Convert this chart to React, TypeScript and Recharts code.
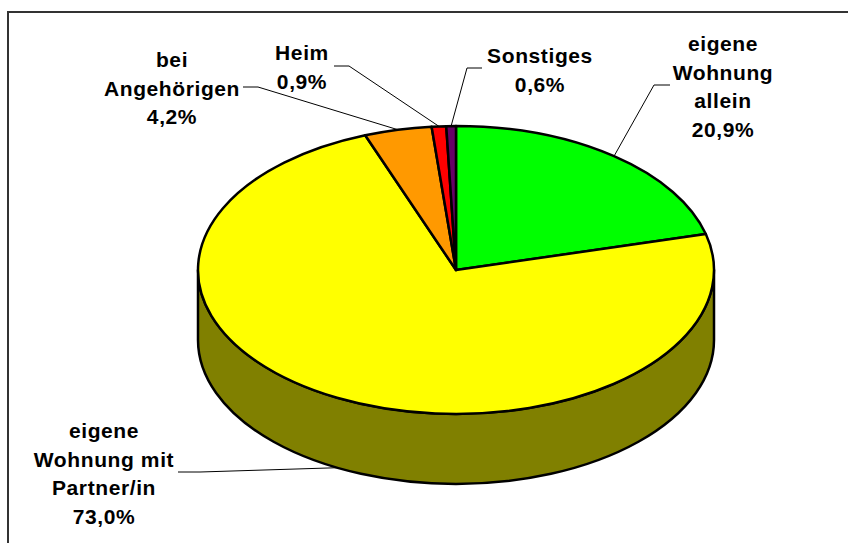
import { PieChart, Pie } from 'recharts'

const CATEGORIES = [
  ['eigene', 'Wohnung', 'allein'],
  ['eigene', 'Wohnung mit', 'Partner/in'],
  ['bei', 'Angehörigen'],
  ['Heim'],
  ['Sonstiges'],
]
const VALUES = [20.9, 73.0, 4.2, 0.9, 0.6]
const COLORS = ['#00ff00', '#ffff00', '#ff9900', '#ff0000', '#660066']
const SIDE_COLOR = '#808000'

// where each label block sits and where its leader line leaves it
const LABEL_SPOTS = [
  { x: 723, y: 51, elbow: [[670, 85], [654, 85]] },
  { x: 104, y: 438, elbow: [[178, 472], [200, 472]] },
  { x: 172, y: 67, elbow: [[243, 87], [258, 87]] },
  { x: 302, y: 60, elbow: [[334, 66], [349, 66]] },
  { x: 540, y: 63, elbow: [[482, 68], [467, 68]] },
]

const SQUASH = 0.558
const DEPTH = 70
const LINE_HEIGHT = 28.6

const TABLE = CATEGORIES.map((c, i) => ({ name: c.join(' '), value: VALUES[i], fill: COLORS[i] }))
const SIDE_TABLE = TABLE.map((d) => ({ ...d, fill: SIDE_COLOR }))

function onEllipse(cx: number, cy: number, r: number, deg: number) {
  const a = (deg * Math.PI) / 180
  return [cx + r * Math.cos(a), cy - r * SQUASH * Math.sin(a)]
}

function TopSlice(p: any) {
  const [x1, y1] = onEllipse(p.cx, p.cy, p.outerRadius, p.startAngle)
  const [x2, y2] = onEllipse(p.cx, p.cy, p.outerRadius, p.endAngle)
  const large = Math.abs(p.startAngle - p.endAngle) > 180 ? 1 : 0
  const ry = p.outerRadius * SQUASH
  const d = `M${p.cx},${p.cy} L${x1},${y1} A${p.outerRadius},${ry} 0 ${large} 1 ${x2},${y2} Z`
  return <path d={d} fill={p.fill} stroke="#000" strokeWidth={2.5} strokeLinejoin="round" />
}

// the wall under a slice, only for the part of it on the front half of the disc
function SideSlice(p: any) {
  const hi = Math.min(p.startAngle, 0)
  const lo = Math.max(p.endAngle, -180)
  if (hi <= lo) return null
  const [x1, y1] = onEllipse(p.cx, p.cy, p.outerRadius, hi)
  const [x2, y2] = onEllipse(p.cx, p.cy, p.outerRadius, lo)
  const ry = p.outerRadius * SQUASH
  const d =
    `M${x1},${y1} A${p.outerRadius},${ry} 0 0 1 ${x2},${y2} L${x2},${y2 + DEPTH} ` +
    `A${p.outerRadius},${ry} 0 0 0 ${x1},${y1 + DEPTH} Z`
  return <path d={d} fill={p.fill} stroke="#000" strokeWidth={2.5} strokeLinejoin="round" />
}

function SliceLabel(p: any) {
  const spot = LABEL_SPOTS[p.index]
  const lines = [...CATEGORIES[p.index], VALUES[p.index].toFixed(1).replace('.', ',') + '%']
  const [ax, ay] = onEllipse(p.cx, p.cy, p.outerRadius, p.midAngle)
  const front = Math.sin((p.midAngle * Math.PI) / 180) < 0
  const pts = [...spot.elbow, [ax, front ? ay + DEPTH : ay]]
  return (
    <g>
      <polyline points={pts.map((q) => q.join(',')).join(' ')} fill="none" stroke="#000" strokeWidth={1} />
      {lines.map((t, i) => (
        <text
          key={i}
          x={spot.x}
          y={spot.y + i * LINE_HEIGHT}
          textAnchor="middle"
          fontFamily="Liberation Sans"
          fontWeight="bold"
          fontSize={21}
          letterSpacing={0.6}
          fill="#000"
        >
          {t}
        </text>
      ))}
    </g>
  )
}

export default function App() {
  return (
    <div style={{ position: 'absolute', left: 0, top: 0, width: 848, height: 543, background: '#fff' }}>
      <div
        style={{
          position: 'absolute',
          left: 7,
          top: 11,
          width: 841,
          height: 532,
          borderLeft: '2px solid #333',
          borderTop: '2px solid #333',
          boxSizing: 'border-box',
        }}
      />
      <div style={{ position: 'absolute', left: 0, top: 0 }}>
        <PieChart width={848} height={543} margin={{ top: 0, right: 0, bottom: 0, left: 0 }}>
          <Pie
            data={SIDE_TABLE}
            dataKey="value"
            cx={456}
            cy={270}
            outerRadius={258}
            startAngle={90}
            endAngle={-270}
            shape={SideSlice}
            isAnimationActive={false}
          />
          <Pie
            data={TABLE}
            dataKey="value"
            cx={456}
            cy={270}
            outerRadius={258}
            startAngle={90}
            endAngle={-270}
            shape={TopSlice}
            label={SliceLabel}
            labelLine={false}
            isAnimationActive={false}
          />
        </PieChart>
      </div>
    </div>
  )
}
